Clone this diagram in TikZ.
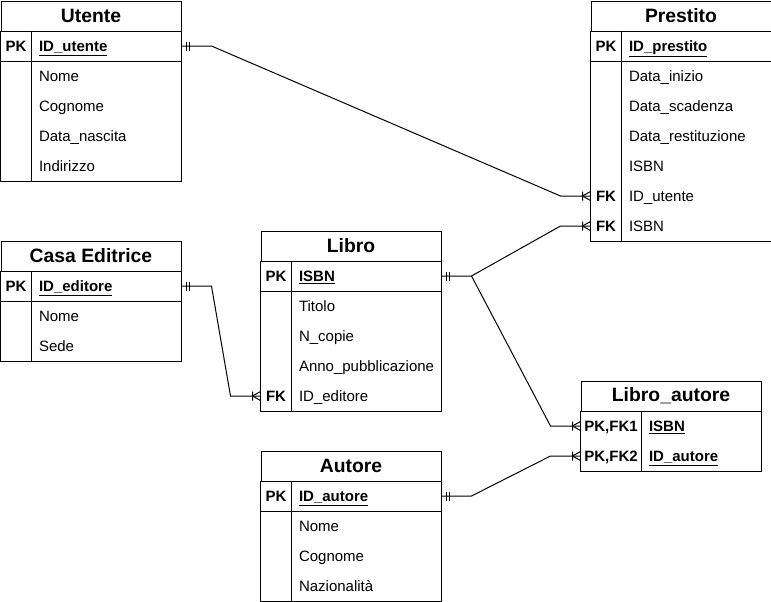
\documentclass[tikz,border=0pt]{standalone}
\usepackage{fontspec}
\setmainfont{Liberation Sans}
\begin{document}
\begin{tikzpicture}[x=0.75pt,y=-0.75pt,line width=0.75pt,
  tbltitle/.style={draw,anchor=north west,minimum width=135pt,minimum height=22.5pt,inner sep=0pt,font=\fontsize{14.5}{17}\selectfont\bfseries},
  keycell/.style={anchor=north west,minimum width=22.5pt,minimum height=22.5pt,inner sep=0pt,text height=9.5pt,text depth=1.7pt,font=\fontsize{11.25}{13}\selectfont\bfseries},
  widekey/.style={keycell,minimum width=45pt},
  field/.style={anchor=north west,minimum height=22.5pt,inner xsep=6pt,inner ysep=0pt,text width=100.5pt,align=left,text height=9.5pt,text depth=1.7pt,font=\fontsize{11.25}{13}\selectfont},
  keyfield/.style={field,font=\fontsize{11.25}{13}\selectfont\bfseries},
  lakey/.style={keyfield,text width=78pt},
  erone/.pic={\draw (5,-4.5) -- (5,4.5) (8,-4.5) -- (8,4.5);},
  ermany/.pic={\draw (0,-4.5) -- (-8,0) -- (0,4.5) (-8,-4.5) -- (-8,4.5);}]
\useasboundingbox (-0.5,-0.5) rectangle (770.5,600.5);

\node[tbltitle] (utente) at (0,0) {Utente};
\node[keycell] (utente-pk) at (0,30) {PK};
\node[keyfield] (utente-id) at (30,30) {\underline{ID\_utente}};
\node[field] (utente-nome) at (30,60) {Nome};
\node[field] (utente-cognome) at (30,90) {Cognome};
\node[field] (utente-nascita) at (30,120) {Data\_nascita};
\node[field] (utente-indirizzo) at (30,150) {Indirizzo};
\draw (utente.south west) rectangle (utente-indirizzo.south east);
\draw (utente-pk.south west) -- (utente-id.south east);
\draw (utente-pk.north east) -- (utente-pk.east |- utente-indirizzo.south);

\node[tbltitle] (prestito) at (590,0) {Prestito};
\node[keycell] (prestito-pk) at (590,30) {PK};
\node[keyfield] (prestito-id) at (620,30) {\underline{ID\_prestito}};
\node[field] (prestito-inizio) at (620,60) {Data\_inizio};
\node[field] (prestito-scadenza) at (620,90) {Data\_scadenza};
\node[field] (prestito-restituzione) at (620,120) {Data\_restituzione};
\node[field] (prestito-isbn) at (620,150) {ISBN};
\node[keycell] (prestito-fk1) at (590,180) {FK};
\node[field] (prestito-utente) at (620,180) {ID\_utente};
\node[keycell] (prestito-fk2) at (590,210) {FK};
\node[field] (prestito-libro) at (620,210) {ISBN};
\draw (prestito.south west) rectangle (prestito-libro.south east);
\draw (prestito-pk.south west) -- (prestito-id.south east);
\draw (prestito-pk.north east) -- (prestito-fk2.south east);

\node[tbltitle] (casa) at (0,240) {Casa Editrice};
\node[keycell] (casa-pk) at (0,270) {PK};
\node[keyfield] (casa-id) at (30,270) {\underline{ID\_editore}};
\node[field] (casa-nome) at (30,300) {Nome};
\node[field] (casa-sede) at (30,330) {Sede};
\draw (casa.south west) rectangle (casa-sede.south east);
\draw (casa-pk.south west) -- (casa-id.south east);
\draw (casa-pk.north east) -- (casa-pk.east |- casa-sede.south);

\node[tbltitle] (libro) at (260,230) {Libro};
\node[keycell] (libro-pk) at (260,260) {PK};
\node[keyfield] (libro-isbn) at (290,260) {\underline{ISBN}};
\node[field] (libro-titolo) at (290,290) {Titolo};
\node[field] (libro-copie) at (290,320) {N\_copie};
\node[field] (libro-anno) at (290,350) {Anno\_pubblicazione};
\node[keycell] (libro-fk) at (260,380) {FK};
\node[field] (libro-editore) at (290,380) {ID\_editore};
\draw (libro.south west) rectangle (libro-editore.south east);
\draw (libro-pk.south west) -- (libro-isbn.south east);
\draw (libro-pk.north east) -- (libro-fk.south east);

\node[tbltitle] (la) at (580,380) {Libro\_autore};
\node[widekey] (la-k1) at (580,410) {PK,FK1};
\node[lakey] (la-isbn) at (640,410) {\underline{ISBN}};
\node[widekey] (la-k2) at (580,440) {PK,FK2};
\node[lakey] (la-autore) at (640,440) {\underline{ID\_autore}};
\draw (la.south west) rectangle (la-autore.south east);
\draw (la-k1.north east) -- (la-k2.south east);

\node[tbltitle] (autore) at (260,450) {Autore};
\node[keycell] (autore-pk) at (260,480) {PK};
\node[keyfield] (autore-id) at (290,480) {\underline{ID\_autore}};
\node[field] (autore-nome) at (290,510) {Nome};
\node[field] (autore-cognome) at (290,540) {Cognome};
\node[field] (autore-naz) at (290,570) {Nazionalità};
\draw (autore.south west) rectangle (autore-naz.south east);
\draw (autore-pk.south west) -- (autore-id.south east);
\draw (autore-pk.north east) -- (autore-pk.east |- autore-naz.south);

\draw (utente-id.east) -- ++(30,0) -- ([xshift=-22.5pt]prestito-fk1.west) -- (prestito-fk1.west);
\draw (libro-isbn.east) -- ++(30,0) coordinate (libro-j) -- ([xshift=-22.5pt]prestito-fk2.west) -- (prestito-fk2.west);
\draw (libro-j) -- ([xshift=-22.5pt]la-k1.west) -- (la-k1.west);
\draw (casa-id.east) -- ++(30,0) -- ([xshift=-22.5pt]libro-fk.west) -- (libro-fk.west);
\draw (autore-id.east) -- ++(30,0) -- ([xshift=-22.5pt]la-k2.west) -- (la-k2.west);

\pic at (utente-id.east) {erone};
\pic at (libro-isbn.east) {erone};
\pic at (casa-id.east) {erone};
\pic at (autore-id.east) {erone};
\pic at (prestito-fk1.west) {ermany};
\pic at (prestito-fk2.west) {ermany};
\pic at (la-k1.west) {ermany};
\pic at (la-k2.west) {ermany};
\pic at (libro-fk.west) {ermany};
\end{tikzpicture}
\end{document}
